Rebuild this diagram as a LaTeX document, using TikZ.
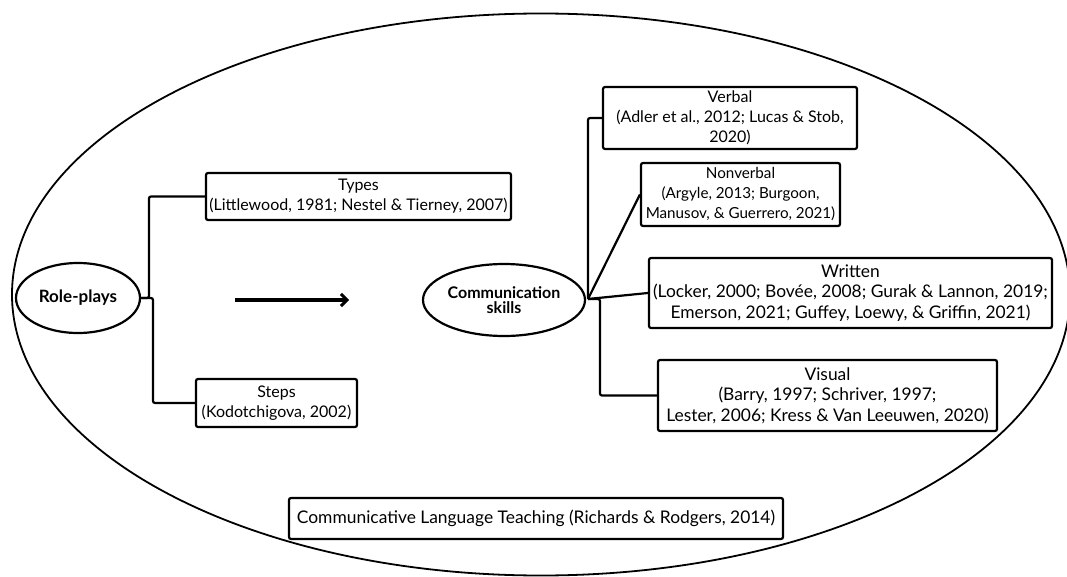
\documentclass[tikz,border=0pt]{standalone}
\usepackage{fontspec}
\setmainfont{Lato}
\usetikzlibrary{shapes.geometric,arrows.meta}
\tikzset{
  refbox/.style={draw, line width=2.2pt, rounded corners=2pt, inner sep=0pt, align=center,
    font=\fontsize{16}{20}\selectfont},
  smalltext/.style={font=\fontsize{15.2}{20}\selectfont},
  bigtext/.style={font=\fontsize{17.4}{20.5}\selectfont},
  hubell/.style={draw, ellipse, line width=2.2pt, inner sep=0pt, align=center},
  link/.style={line width=2.2pt, rounded corners=2pt},
}
\begin{document}
\begin{tikzpicture}[x=1pt,y=-1pt]
\useasboundingbox (0,0) rectangle (1067,577);
\draw[line width=1.8pt] (541,294.5) ellipse [x radius=529, y radius=281];
\node[hubell, minimum width=124pt, minimum height=70pt, font=\bfseries\fontsize{17}{18}\selectfont] (rp) at (78,298) {Role-plays};
\node[hubell, minimum width=162pt, minimum height=72pt, font=\bfseries\fontsize{16}{15}\selectfont] (cs) at (504,300) {Communication\\skills};
\node[refbox, minimum width=305pt, minimum height=47pt] (types) at (358.5,196.5) {Types\\(Littlewood, 1981; Nestel \& Tierney, 2007)};
\node[refbox, minimum width=161pt, minimum height=48pt] (steps) at (276.5,403) {Steps\\(Kodotchigova, 2002)};
\node[refbox, minimum width=254pt, minimum height=62pt] (verbal) at (730,118) {Verbal\\(Adler et al., 2012; Lucas \& Stob,\\2020)};
\node[refbox, smalltext, minimum width=199pt, minimum height=63pt] (nonverbal) at (740.5,194.5) {Nonverbal\\(Argyle, 2013; Burgoon,\\Manusov, \& Guerrero, 2021)};
\node[refbox, bigtext, minimum width=403pt, minimum height=70pt] (written) at (850.5,293) {Written\\(Locker, 2000; Bovée, 2008; Gurak \& Lannon, 2019;\\Emerson, 2021; Guffey, Loewy, \& Griffin, 2021)};
\node[refbox, bigtext, minimum width=339pt, minimum height=71pt] (visual) at (827.5,395.5) {Visual\\(Barry, 1997; Schriver, 1997;\\Lester, 2006; Kress \& Van Leeuwen, 2020)};
\node[refbox, bigtext, minimum width=494pt, minimum height=41pt] (clt) at (536,518.5) {Communicative Language Teaching (Richards \& Rodgers, 2014)};
\coordinate (hub) at (588,299);
\coordinate (arrA) at (235,300);
\coordinate (arrB) at (349,300);
\draw[link] (rp.east) -- (149,298) |- (types.west);
\draw[link] (rp.east) -- (153,298) |- (steps.west);
\draw[link] (hub) |- (verbal.west);
\draw[link] (hub) -- (nonverbal.west);
\draw[link] (hub) -- (written.west);
\draw[link] (hub) -- (600,299) |- (visual.west);
\draw[line width=3.5pt, -{Straight Barb[length=6pt,width=12pt,line width=3pt]}] (arrA) -- (arrB);
\end{tikzpicture}
\end{document}
